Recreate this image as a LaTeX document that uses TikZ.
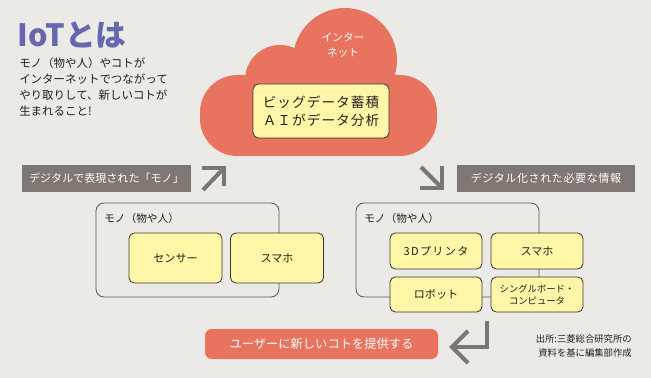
\documentclass[tikz,border=0pt]{standalone}
\usepackage{fontspec}
\setmainfont{Noto Sans CJK JP}
\usepackage{tikz}
\usetikzlibrary{positioning}
\definecolor{cbg}{HTML}{ECEAE7}
\definecolor{ctitle}{HTML}{6567B0}
\definecolor{ccloud}{HTML}{E8735F}
\definecolor{cyellow}{HTML}{FFF6A8}
\definecolor{cline}{HTML}{3A3634}
\definecolor{cgroup}{HTML}{5A5654}
\definecolor{ctag}{HTML}{7E7772}
\definecolor{carrow}{HTML}{7A7674}
\definecolor{ctext}{HTML}{231F1E}
\tikzset{
  base/.style={inner sep=0pt, align=center, text=ctext, font=\fontsize{8.3}{10.5}\selectfont},
  ybox/.style={base, draw=cline, fill=cyellow, rounded corners=4pt, line width=0.6pt},
  sbox/.style={ybox, minimum width=69.75pt, minimum height=37.5pt},
  qbox/.style={ybox, minimum width=69pt, minimum height=27pt},
  grp/.style={draw=cgroup, rounded corners=6pt, line width=0.6pt, inner sep=0pt, minimum width=137.25pt, minimum height=70.5pt},
  grplbl/.style={base, anchor=west, font=\fontsize{8}{10}\selectfont},
  tag/.style={base, fill=ctag, text=white, minimum height=20.25pt},
  bigarrow/.style={draw=carrow, line width=3pt},
  note/.style={base, align=left},
}
\begin{document}
\begin{tikzpicture}[x=0.75pt, y=-0.75pt]
\fill[cbg] (0,0) rectangle (651,378);
\useasboundingbox (0,0) rectangle (651,378);
% heading and intro
\node[base, anchor=west, text=ctitle, font=\fontsize{23}{26}\selectfont\bfseries] (title) at (17,35) {IoTとは};
\node[note, anchor=north west, font=\fontsize{8.6}{12.2}\selectfont] (intro) at (19,57) {モノ（物や人）やコトが\\インターネットでつながって\\やり取りして、新しいコトが\\生まれること!};
% cloud
\fill[ccloud, rounded corners=28pt] (200,75) rectangle (437,156);
\fill[ccloud] (345,60) circle[radius=52];
\fill[ccloud] (280,80) circle[radius=35];
\node[base, text=white, font=\fontsize{8}{11}\selectfont] (net) at (343,45) {インター\\ネット};
\node[ybox, minimum width=102pt, minimum height=40.5pt, font=\fontsize{10.2}{13.5}\selectfont\addfontfeature{LetterSpace=8}] (data) at (321,111) {ビッグデータ蓄積\\ＡＩがデータ分析};
% tags and arrows
\node[tag, minimum width=126.75pt] (tagL) at (106.5,178.5) {デジタルで表現された「モノ」};
\node[tag, minimum width=133.5pt, font=\fontsize{8.3}{10.5}\selectfont\addfontfeature{LetterSpace=5}] (tagR) at (546,178.5) {デジタル化された必要な情報};
\coordinate (upA) at (224,168);
\coordinate (dnA) at (442,188);
\draw[bigarrow] (upA) -- ++(-21,22);
\draw[bigarrow] (upA) ++(-22,0) -- (upA) -- ++(0,18);
\draw[bigarrow] (dnA) -- ++(-21,-21);
\draw[bigarrow] (dnA) ++(-22,0) -- (dnA) -- ++(0,-22);
% left things
\node[grp] (grpL) at (187.5,250) {};
\node[grplbl] (grpLl) at (104,218) {モノ（物や人）};
\node[sbox] (sensor) at (175.5,258) {センサー};
\node[sbox] (phoneL) at (277,258) {スマホ};
% right things
\node[grp] (grpR) at (447.5,250) {};
\node[grplbl] (grpRl) at (364,218) {モノ（物や人）};
\node[qbox, font=\fontsize{8.3}{10.5}\selectfont\addfontfeature{LetterSpace=12}] (printer) at (436,251) {3Dプリンタ};
\node[qbox] (phoneR) at (537,251) {スマホ};
\node[qbox, minimum height=26.25pt] (robot) at (436,294.5) {ロボット};
\node[qbox, minimum height=26.25pt, font=\fontsize{7}{9}\selectfont] (sbc) at (537,294.5) {シングルボード・\\コンピュータ};
% result
\node[base, fill=ccloud, text=white, rounded corners=5pt, minimum width=174.75pt, minimum height=22.5pt, font=\fontsize{9.2}{11}\selectfont] (user) at (321.5,344) {ユーザーに新しいコトを提供する};
\coordinate (retA) at (487,321);
\draw[bigarrow] (retA) |- (454,347);
\draw[bigarrow] (468,331) -- (452,347) -- (468,363);
\node[base, align=right, anchor=east, font=\fontsize{7}{10.5}\selectfont] (src) at (632,346) {出所:三菱総合研究所の\\資料を基に編集部作成};
\end{tikzpicture}
\end{document}
